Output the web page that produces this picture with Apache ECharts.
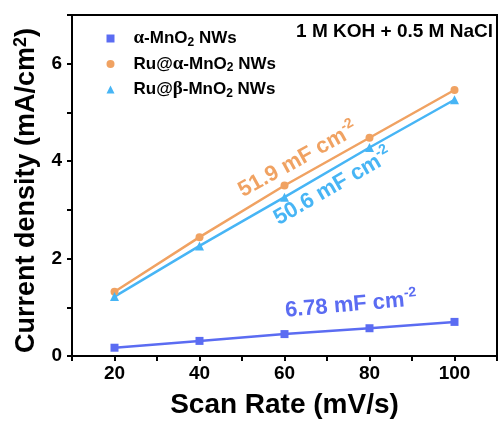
<!DOCTYPE html>
<html><head><meta charset="utf-8">
<script src="https://cdn.jsdelivr.net/npm/echarts@6/dist/echarts.min.js"></script>
<style>html,body{margin:0;padding:0;background:#fff}#c{width:499px;height:424px}</style>
</head><body><div id="c"></div>
<script>
const scanRates = [20, 40, 60, 80, 100];
const alphaMnO2 = [0.17, 0.31, 0.45, 0.57, 0.70];
const ruAlphaMnO2 = [1.32, 2.44, 3.50, 4.48, 5.46];
const ruBetaMnO2 = [1.22, 2.26, 3.26, 4.28, 5.26];
const seriesNames = ['α-MnO2 NWs', 'Ru@α-MnO2 NWs', 'Ru@β-MnO2 NWs'];
const xTickLabels = [20, 40, 60, 80, 100];
const xTicks = [10, 20, 30, 40, 50, 60, 70, 80, 90, 100, 110];
const colors = ['#5b6cf2', '#f0a262', '#47b5f5'];
const FONT = 'Liberation Sans, Arial, sans-serif';

const chart = echarts.init(document.getElementById('c'));
const pair = (ys) => scanRates.map((x, i) => [x, ys[i]]);
const legendLabels = {
  'α-MnO2 NWs': '{p|}{g|α}-MnO{s|2} NWs',
  'Ru@α-MnO2 NWs': '{p|}Ru@{g|α}-MnO{s|2} NWs',
  'Ru@β-MnO2 NWs': '{p|}Ru@{g|β}-MnO{s|2} NWs'
};
const mkSeries = (name, ys, color, symbol, size) => ({
  name, type: 'line', data: pair(ys), symbol, symbolSize: size,
  lineStyle: { color, width: 2.5 }, itemStyle: { color }, z: 3
});
const supRich = (c) => ({ s: { font: 'bold 14px ' + FONT, fill: c, verticalAlign: 'top', padding: [0, 0, 14, 0] } });
chart.setOption({
  animation: false,
  grid: { left: 72, right: 2, top: 15, bottom: 68, show: true, borderColor: '#000', borderWidth: 2 },
  xAxis: {
    type: 'value', min: 10, max: 110, interval: 10,
    name: 'Scan Rate (mV/s)', nameLocation: 'middle', nameGap: 35,
    nameTextStyle: { fontFamily: FONT, fontWeight: 'bold', fontSize: 28, color: '#000' },
    axisLine: { show: true, lineStyle: { color: '#000', width: 2 } },
    axisTick: { show: true, inside: false, length: 5, lineStyle: { color: '#000', width: 2 }, customValues: xTicks },
    axisLabel: { fontFamily: FONT, fontWeight: 'bold', fontSize: 19, color: '#000', margin: 8, customValues: xTickLabels },
    splitLine: { show: false }
  },
  yAxis: {
    type: 'value', min: 0, max: 7, interval: 1,
    name: 'Current density (mA/cm{sup|2})', nameLocation: 'middle', nameGap: 22,
    nameTextStyle: { fontFamily: FONT, fontWeight: 'bold', fontSize: 27, color: '#000', padding: [0, 10, 0, 0],
      rich: { sup: { fontFamily: FONT, fontWeight: 'bold', fontSize: 18, verticalAlign: 'top', padding: [0, 0, 12, 0], color: '#000' } } },
    axisLine: { show: true, lineStyle: { color: '#000', width: 2 } },
    axisTick: { show: true, inside: false, length: 5, lineStyle: { color: '#000', width: 2 } },
    axisLabel: { fontFamily: FONT, fontWeight: 'bold', fontSize: 19, color: '#000', margin: 10,
      formatter: v => (v % 2 === 0 ? String(v) : '') },
    splitLine: { show: false }
  },
  legend: {
    orient: 'vertical', left: 101.5, top: 23.5, itemGap: 5.5, itemWidth: 8, itemHeight: 8,
    data: [
      { name: seriesNames[0], icon: 'rect', itemStyle: { color: colors[0] } },
      { name: seriesNames[1], icon: 'circle', itemStyle: { color: colors[1] } },
      { name: seriesNames[2], icon: 'triangle', itemStyle: { color: colors[2] } }
    ],
    formatter: n => legendLabels[n],
    textStyle: { fontFamily: FONT, fontWeight: 'bold', fontSize: 17, lineHeight: 20, color: '#000',
      rich: {
        p: { width: 14 },
        g: { fontFamily: 'Liberation Serif, Times New Roman, serif', fontSize: 19, color: '#000' },
        s: { fontFamily: FONT, fontWeight: 'bold', fontSize: 12, color: '#000', verticalAlign: 'bottom', padding: [5, 0, 0, 0] }
      } }
  },
  graphic: [
    { type: 'text', right: 6, top: 22, style: { text: '1 M KOH + 0.5 M NaCl', font: 'bold 19px ' + FONT, fill: '#000' } },
    { type: 'text', x: 298, y: 160, rotation: 29 * Math.PI / 180, style: { text: '51.9 mF cm{s|-2}', font: 'bold 22px ' + FONT, fill: colors[1], align: 'center', verticalAlign: 'middle', rich: supRich(colors[1]) } },
    { type: 'text', x: 333, y: 187, rotation: 30 * Math.PI / 180, style: { text: '50.6 mF cm{s|-2}', font: 'bold 22px ' + FONT, fill: colors[2], align: 'center', verticalAlign: 'middle', rich: supRich(colors[2]) } },
    { type: 'text', x: 351, y: 305, rotation: 5 * Math.PI / 180, style: { text: '6.78 mF cm{s|-2}', font: 'bold 22px ' + FONT, fill: colors[0], align: 'center', verticalAlign: 'middle', rich: supRich(colors[0]) } }
  ],
  series: [
    mkSeries(seriesNames[0], alphaMnO2, colors[0], 'rect', 8),
    mkSeries(seriesNames[1], ruAlphaMnO2, colors[1], 'circle', 8),
    mkSeries(seriesNames[2], ruBetaMnO2, colors[2], 'triangle', 9)
  ]
});
</script></body></html>
